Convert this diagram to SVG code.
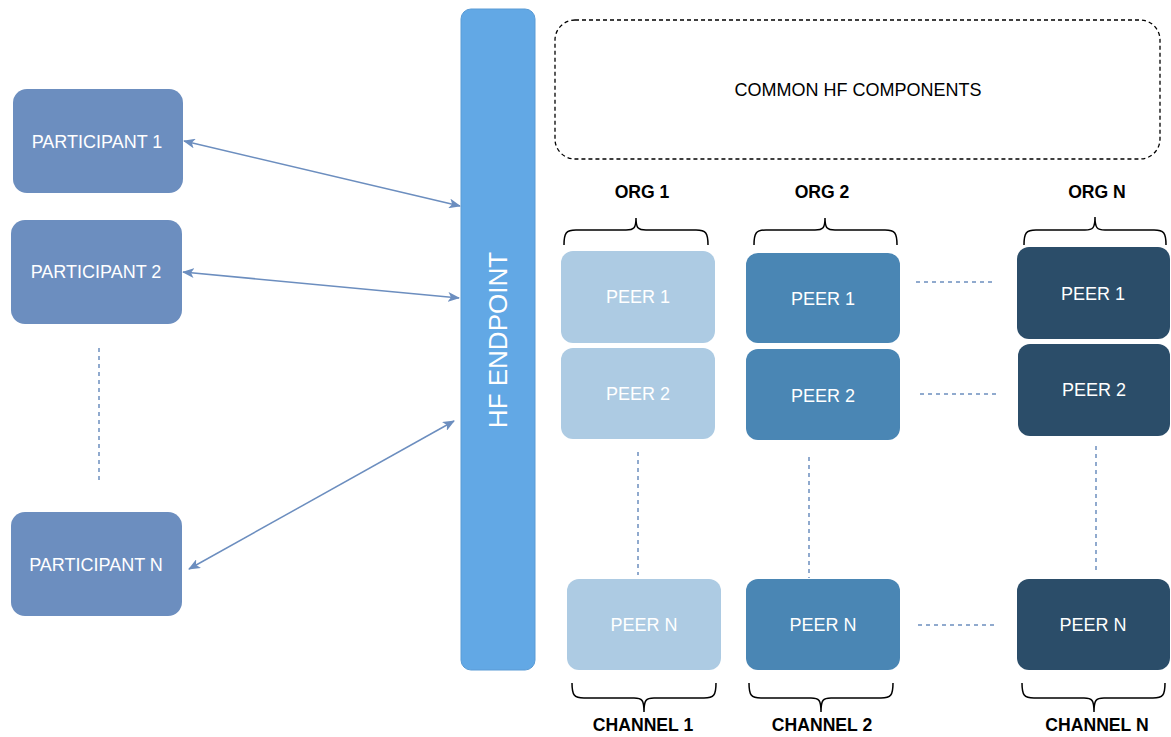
<svg xmlns="http://www.w3.org/2000/svg" width="1171" height="737" viewBox="0 0 1171 737">
<defs>
<marker id="ah" viewBox="0 0 12 10" refX="11" refY="5" markerWidth="12" markerHeight="10" markerUnits="userSpaceOnUse" orient="auto-start-reverse">
<path d="M0,0 L12,5 L0,10 L3,5 Z" fill="#6c8ebf"/>
</marker>
<style>
text{font-family:"Liberation Sans",Arial,sans-serif;text-anchor:middle;dominant-baseline:central}
.wt{fill:#ffffff;font-size:18px}
.part{fill:#6c8ebf}
.o1{fill:#adcbe3}
.o2{fill:#4a86b4}
.on{fill:#2b4d69}
.lbl{fill:#000;font-size:17.6px;font-weight:bold}
.brace{fill:none;stroke:#000;stroke-width:1.5}
.dash{stroke:#6c8ebf;stroke-width:1.5;stroke-dasharray:4 4;fill:none}
.arr{stroke:#6c8ebf;stroke-width:1.5;fill:none;marker-start:url(#ah);marker-end:url(#ah)}
</style>
</defs>
<rect width="1171" height="737" fill="#fff"/>

<g id="participant1"><rect class="part" x="13" y="89" width="170" height="104" rx="14"/><text class="wt" x="97" y="142">PARTICIPANT 1</text></g>
<g id="participant2"><rect class="part" x="11" y="220" width="171" height="104" rx="14"/><text class="wt" x="96" y="272">PARTICIPANT 2</text></g>
<g id="participantN"><rect class="part" x="11" y="512" width="171" height="104" rx="14"/><text class="wt" x="96" y="565">PARTICIPANT N</text></g>

<g id="hf-endpoint"><rect x="461" y="9" width="74" height="661" rx="10" fill="#62a8e5" stroke="#5a9bd5" stroke-width="1"/><text class="wt" x="498" y="340" style="font-size:26px" transform="rotate(-90 498 340)">HF ENDPOINT</text></g>

<g id="common"><rect x="555" y="20" width="605" height="139" rx="20" fill="none" stroke="#000" stroke-width="1.3" stroke-dasharray="4 3"/><text x="858" y="90" style="font-size:18px">COMMON HF COMPONENTS</text></g>

<g id="org1-label"><text class="lbl" x="642" y="192">ORG 1</text><path class="brace" d="M564,245 C564,233 566,230 576,230 L626,230 C634,230 636,228 636,218 C636,228 638,230 646,230 L696,230 C706,230 708,233 708,245"/></g>
<g id="org2-label"><text class="lbl" x="822" y="192">ORG 2</text><path class="brace" d="M754,245 C754,233 756,230 766,230 L815,230 C823,230 825,228 825,218 C825,228 827,230 835,230 L885,230 C895,230 897,233 897,245"/></g>
<g id="orgN-label"><text class="lbl" x="1097" y="192">ORG N</text><path class="brace" d="M1024,245 C1024,233 1026,230 1036,230 L1085,230 C1093,230 1095,228 1095,217 C1095,228 1097,230 1105,230 L1154,230 C1164,230 1166,233 1166,245"/></g>

<g id="org1-peer1"><rect class="o1" x="561" y="251" width="154" height="92" rx="12"/><text class="wt" x="638" y="297">PEER 1</text></g>
<g id="org1-peer2"><rect class="o1" x="561" y="348" width="154" height="91" rx="12"/><text class="wt" x="638" y="394">PEER 2</text></g>
<g id="org1-peerN"><rect class="o1" x="567" y="579" width="154" height="91" rx="12"/><text class="wt" x="644" y="625">PEER N</text></g>

<g id="org2-peer1"><rect class="o2" x="746" y="253" width="154" height="90" rx="12"/><text class="wt" x="823" y="299">PEER 1</text></g>
<g id="org2-peer2"><rect class="o2" x="746" y="349" width="154" height="91" rx="12"/><text class="wt" x="823" y="396">PEER 2</text></g>
<g id="org2-peerN"><rect class="o2" x="746" y="579" width="154" height="91" rx="12"/><text class="wt" x="823" y="625">PEER N</text></g>

<g id="orgN-peer1"><rect class="on" x="1017" y="247" width="153" height="92" rx="12"/><text class="wt" x="1093" y="294">PEER 1</text></g>
<g id="orgN-peer2"><rect class="on" x="1018" y="344" width="152" height="92" rx="12"/><text class="wt" x="1094" y="390">PEER 2</text></g>
<g id="orgN-peerN"><rect class="on" x="1017" y="579" width="153" height="91" rx="12"/><text class="wt" x="1093" y="625">PEER N</text></g>

<g id="ch1-label"><path class="brace" d="M572,683 C572,695 574,698 584,698 L634,698 C642,698 644,700 644,712 C644,700 646,698 654,698 L704,698 C714,698 716,695 716,683"/><text class="lbl" x="643" y="725">CHANNEL 1</text></g>
<g id="ch2-label"><path class="brace" d="M749,683 C749,695 751,698 761,698 L811,698 C819,698 821,700 821,712 C821,700 823,698 831,698 L881,698 C891,698 893,695 893,683"/><text class="lbl" x="822" y="725">CHANNEL 2</text></g>
<g id="chN-label"><path class="brace" d="M1022,683 C1022,695 1024,698 1034,698 L1084,698 C1092,698 1094,700 1094,712 C1094,700 1096,698 1104,698 L1153,698 C1163,698 1165,695 1165,683"/><text class="lbl" x="1097" y="725">CHANNEL N</text></g>

<g id="connectors">
<line class="arr" x1="184" y1="141" x2="460" y2="206"/>
<line class="arr" x1="183" y1="272" x2="459" y2="298"/>
<line class="arr" x1="189" y1="569" x2="454" y2="421"/>
<line class="dash" x1="99" y1="348" x2="99" y2="482"/>
<line class="dash" x1="638" y1="452" x2="638" y2="575"/>
<line class="dash" x1="809" y1="457" x2="809" y2="578"/>
<line class="dash" x1="1096" y1="446" x2="1096" y2="570"/>
<line class="dash" x1="916" y1="282" x2="992" y2="282"/>
<line class="dash" x1="920" y1="394" x2="997" y2="394"/>
<line class="dash" x1="918" y1="625" x2="996" y2="625"/>
</g>
</svg>
